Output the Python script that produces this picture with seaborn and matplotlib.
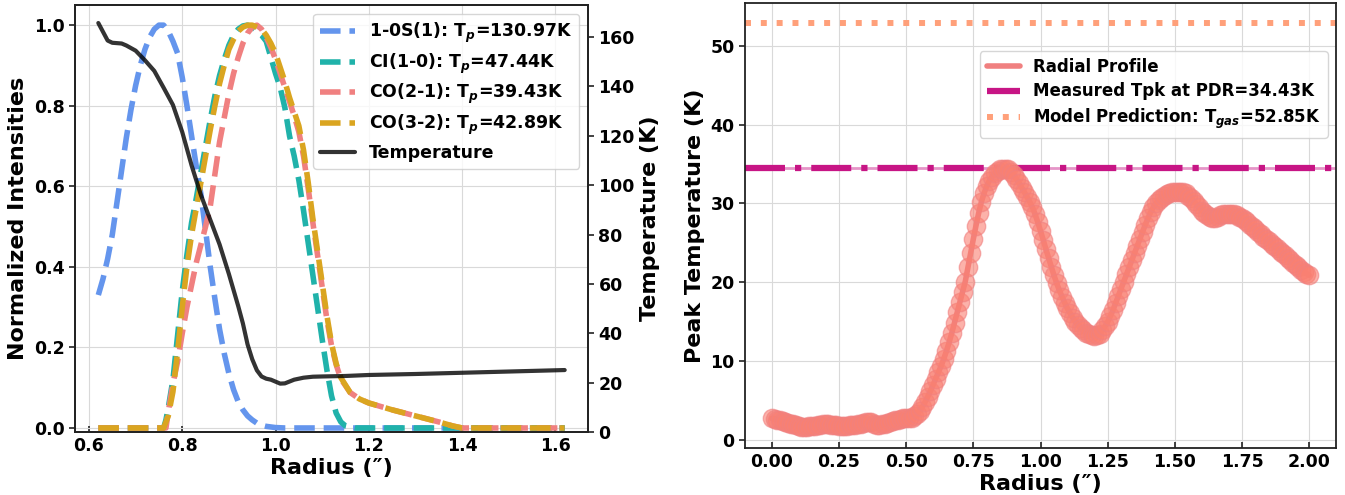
import numpy as np
import pandas as pd
import matplotlib
matplotlib.use("Agg")
import matplotlib.pyplot as plt
import seaborn as sns

# ---- left panel: normalised line intensities vs radius ----
r_h2 = [0.62, 0.63, 0.64, 0.65, 0.66, 0.67, 0.68, 0.69, 0.70, 0.71, 0.72, 0.73,
        0.74, 0.75, 0.76, 0.77, 0.78, 0.79, 0.80, 0.81, 0.82, 0.83, 0.84, 0.85,
        0.86, 0.87, 0.88, 0.89, 0.90, 0.91, 0.92, 0.93, 0.94, 0.95, 0.96, 0.97,
        0.98, 1.00, 1.02, 1.10, 1.20, 1.30, 1.40, 1.50, 1.62]
i_h2 = [0.33, 0.37, 0.42, 0.48, 0.56, 0.64, 0.72, 0.79, 0.85, 0.90, 0.94, 0.97,
        0.99, 1.0, 1.0, 0.985, 0.96, 0.93, 0.87, 0.80, 0.725, 0.65, 0.58, 0.49,
        0.40, 0.32, 0.245, 0.185, 0.135, 0.095, 0.065, 0.045, 0.03, 0.02, 0.012, 0.007,
        0.004, 0.001, 0.0, 0.0, 0.0, 0.0, 0.0, 0.0, 0.0]

r_ci = [0.62, 0.70, 0.76, 0.765, 0.77, 0.78, 0.79, 0.80, 0.81, 0.82, 0.83, 0.84,
        0.85, 0.86, 0.87, 0.88, 0.89, 0.90, 0.91, 0.92, 0.93, 0.94, 0.95, 0.96,
        0.97, 0.98, 0.99, 1.00, 1.01, 1.02, 1.03, 1.04, 1.05, 1.06, 1.07, 1.08,
        1.09, 1.10, 1.11, 1.12, 1.13, 1.14, 1.15, 1.17, 1.30, 1.45, 1.62]
i_ci = [0.0, 0.0, 0.0, 0.02, 0.05, 0.12, 0.23, 0.34, 0.43, 0.51, 0.57, 0.635,
        0.70, 0.765, 0.825, 0.875, 0.915, 0.95, 0.975, 0.99, 0.998, 1.0, 0.995, 0.985,
        0.975, 0.96, 0.92, 0.88, 0.845, 0.795, 0.725, 0.675, 0.615, 0.54, 0.46, 0.38,
        0.30, 0.22, 0.145, 0.08, 0.037, 0.015, 0.005, 0.0, 0.0, 0.0, 0.0]

r_co21 = [0.62, 0.70, 0.765, 0.77, 0.78, 0.79, 0.80, 0.81, 0.82, 0.83, 0.84, 0.85,
          0.86, 0.87, 0.88, 0.89, 0.90, 0.91, 0.92, 0.93, 0.94, 0.95, 0.96, 0.97,
          0.98, 0.99, 1.00, 1.01, 1.02, 1.03, 1.04, 1.05, 1.06, 1.07, 1.08, 1.09,
          1.10, 1.11, 1.12, 1.13, 1.14, 1.16, 1.18, 1.20, 1.25, 1.30, 1.35, 1.38,
          1.40, 1.50, 1.62]
i_co21 = [0.0, 0.0, 0.0, 0.04, 0.11, 0.165, 0.235, 0.30, 0.355, 0.41, 0.455, 0.50,
          0.55, 0.63, 0.71, 0.77, 0.83, 0.88, 0.92, 0.955, 0.98, 0.995, 1.0, 0.99,
          0.97, 0.945, 0.915, 0.88, 0.845, 0.81, 0.775, 0.735, 0.675, 0.595, 0.51, 0.43,
          0.35, 0.27, 0.205, 0.157, 0.122, 0.088, 0.072, 0.062, 0.045, 0.03, 0.015, 0.005,
          0.0, 0.0, 0.0]

r_co32 = [0.62, 0.70, 0.76, 0.77, 0.78, 0.79, 0.80, 0.81, 0.82, 0.83, 0.84, 0.85,
          0.86, 0.87, 0.88, 0.89, 0.90, 0.91, 0.92, 0.93, 0.94, 0.95, 0.96, 0.97,
          0.98, 0.99, 1.00, 1.01, 1.02, 1.03, 1.04, 1.05, 1.06, 1.07, 1.08, 1.09,
          1.10, 1.11, 1.12, 1.13, 1.14, 1.16, 1.18, 1.20, 1.25, 1.30, 1.35, 1.38,
          1.40, 1.50, 1.62]
i_co32 = [0.0, 0.0, 0.0, 0.03, 0.09, 0.19, 0.30, 0.40, 0.48, 0.545, 0.61, 0.675,
          0.74, 0.80, 0.855, 0.90, 0.94, 0.965, 0.985, 0.995, 1.0, 1.0, 0.995, 0.99,
          0.975, 0.955, 0.93, 0.895, 0.86, 0.82, 0.785, 0.75, 0.69, 0.61, 0.52, 0.44,
          0.36, 0.28, 0.21, 0.16, 0.125, 0.088, 0.072, 0.062, 0.045, 0.03, 0.015, 0.005,
          0.0, 0.0, 0.0]

r_temp = [0.62, 0.64, 0.65, 0.67, 0.68, 0.70, 0.72, 0.74, 0.76, 0.78, 0.80, 0.82,
          0.84, 0.86, 0.88, 0.90, 0.92, 0.93, 0.94, 0.95, 0.96, 0.97, 0.98, 0.99,
          1.00, 1.01, 1.02, 1.04, 1.06, 1.08, 1.10, 1.15, 1.20, 1.30, 1.40, 1.50, 1.62]
temp = [165.7, 158.6, 157.7, 157.4, 156.6, 154.5, 150.6, 146.3, 139.5, 132.5, 121.5, 108.0,
        96.0, 86.0, 76.0, 64.0, 51.0, 44.0, 35.5, 29.5, 25.0, 22.5, 21.6, 21.2,
        20.4, 19.6, 19.7, 21.2, 22.0, 22.4, 22.5, 22.7, 23.1, 23.5, 24.0, 24.5, 25.1]

line_labels = [r"1-0S(1): T$_p$=130.97K", r"CI(1-0): T$_p$=47.44K",
               r"CO(2-1): T$_p$=39.43K", r"CO(3-2): T$_p$=42.89K"]
line_colors = ["cornflowerblue", "lightseagreen", "lightcoral", "goldenrod"]

# ---- right panel: peak temperature radial profile ----
radius = np.linspace(0, 2, 201)
t_peak = [2.75, 2.7, 2.6, 2.5, 2.4, 2.3, 2.2, 2.1, 2.0, 1.9,
          1.8, 1.7, 1.65, 1.7, 1.75, 1.8, 1.85, 1.9, 1.95, 2.0,
          2.0, 2.0, 1.95, 1.9, 1.9, 1.85, 1.85, 1.85, 1.85, 1.9,
          1.9, 1.95, 2.0, 2.1, 2.2, 2.3, 2.35, 2.3, 2.1, 1.95,
          1.9, 2.0, 2.1, 2.2, 2.3, 2.4, 2.5, 2.6, 2.7, 2.75,
          2.75, 2.75, 2.8, 3.0, 3.3, 3.7, 4.2, 4.8, 5.5, 6.2,
          7.0, 7.8, 8.6, 9.4, 10.3, 11.3, 12.4, 13.6, 14.9, 16.2,
          17.5, 18.8, 20.1, 21.9, 23.7, 25.5, 27.2, 28.8, 30.2, 31.3,
          32.2, 32.9, 33.4, 33.8, 34.1, 34.3, 34.4, 34.4, 34.3, 34.0,
          33.6, 33.1, 32.6, 32.0, 31.4, 30.8, 30.2, 29.5, 28.6, 27.6,
          26.5, 25.4, 24.2, 23.1, 22.0, 20.9, 19.9, 19.0, 18.2, 17.4,
          16.7, 16.1, 15.5, 15.0, 14.6, 14.2, 13.9, 13.6, 13.4, 13.3,
          13.2, 13.3, 13.5, 13.9, 14.4, 15.0, 15.7, 16.5, 17.4, 18.3,
          19.2, 20.1, 21.0, 21.9, 22.8, 23.7, 24.6, 25.5, 26.4, 27.3,
          28.1, 28.9, 29.5, 30.0, 30.4, 30.7, 31.0, 31.2, 31.3, 31.4,
          31.5, 31.5, 31.5, 31.4, 31.3, 31.0, 30.7, 30.3, 29.9, 29.5,
          29.1, 28.8, 28.5, 28.3, 28.2, 28.2, 28.3, 28.5, 28.6, 28.7,
          28.7, 28.7, 28.6, 28.5, 28.3, 28.1, 27.9, 27.6, 27.3, 27.0,
          26.7, 26.4, 26.1, 25.8, 25.5, 25.2, 24.9, 24.6, 24.3, 24.0,
          23.7, 23.4, 23.1, 22.8, 22.5, 22.2, 21.9, 21.6, 21.3, 21.1,
          20.9]
tpk_pdr = 34.43
t_gas_model = 52.85

sns.set_style("whitegrid", rc={"axes.edgecolor": "#222222", "grid.color": "#d9d9d9",
                               "xtick.bottom": True, "ytick.left": True,
                               "text.color": "black", "axes.labelcolor": "black",
                               "xtick.color": "black", "ytick.color": "black"})
plt.rcParams.update({
    "font.family": ["DejaVu Sans"],
    "font.weight": "bold",
    "axes.labelweight": "bold",
    "axes.linewidth": 1.3,
    "mathtext.fontset": "custom",
    "mathtext.rm": "DejaVu Sans:bold",
    "mathtext.it": "DejaVu Sans:italic:bold",
    "mathtext.bf": "DejaVu Sans:bold",
})

fig = plt.figure(figsize=(13.45, 4.95), dpi=100)
ax = fig.add_axes([75 / 1345, 63 / 495, 513 / 1345, 427 / 495])
ax2 = fig.add_axes([745 / 1345, 47 / 495, 591 / 1345, 445 / 495])

series = [(r_h2, i_h2), (r_ci, i_ci), (r_co21, i_co21), (r_co32, i_co32)]
for (rr, ii), lab, col in zip(series, line_labels, line_colors):
    sns.lineplot(x=rr, y=ii, ax=ax, color=col, lw=4, linestyle="--", label=lab)
if ax.get_legend():
    ax.get_legend().remove()

ax.set_ylim(-0.01, 1.05)
ax.set_yticks([0.0, 0.2, 0.4, 0.6, 0.8, 1.0])
ax.set_xticks([0.6, 0.8, 1.0, 1.2, 1.4, 1.6])
ax.set_xlabel("Radius (\u2033)", fontsize=16, labelpad=2)
ax.set_ylabel("Normalized Intensities", fontsize=16)
ax.tick_params(labelsize=12.5, length=4, width=1.2, color="#222222")
ax.tick_params(axis="x", direction="in")

tw = ax.twinx()
sns.lineplot(x=r_temp, y=temp, ax=tw, color="black", alpha=0.8, lw=3, label="Temperature")
if tw.get_legend():
    tw.get_legend().remove()
tw.set_ylim(0, 173)
tw.set_yticks(range(0, 161, 20))
tw.grid(False)
tw.set_ylabel("Temperature (K)", fontsize=16)
tw.tick_params(labelsize=12.5, length=4, width=1.2, color="#222222")

h1, l1 = ax.get_legend_handles_labels()
h2, l2 = tw.get_legend_handles_labels()
tw.legend(h1 + h2, l1 + l2, loc="upper right", labelspacing=0.38,
          prop={"weight": "bold", "size": 12.5}, framealpha=0.8)

# right panel
ax2.axhline(tpk_pdr, color="mediumvioletred", lw=2, alpha=0.45, zorder=2)
h_meas = ax2.axhline(tpk_pdr, color="mediumvioletred", lw=4.5, linestyle="-.", zorder=2)
h_model = ax2.axhline(t_gas_model, color="lightsalmon", lw=4.3, linestyle=":", zorder=2)
prof = pd.DataFrame({"radius": radius, "tpk": t_peak})
sns.lineplot(data=prof, x="radius", y="tpk", ax=ax2, color="lightcoral", lw=4,
             zorder=3, label="Radial Profile")
sns.scatterplot(data=prof, x="radius", y="tpk", ax=ax2, color="salmon", alpha=0.6,
                s=175, edgecolor="lightcoral", linewidth=1, zorder=4, legend=False)
h_prof = ax2.get_lines()[-1]
if ax2.get_legend():
    ax2.get_legend().remove()

ax2.set_ylim(-1.0, 55.4)
ax2.set_yticks([0, 10, 20, 30, 40, 50])
ax2.set_xticks([0.0, 0.25, 0.5, 0.75, 1.0, 1.25, 1.5, 1.75, 2.0])
ax2.xaxis.set_major_formatter(matplotlib.ticker.FormatStrFormatter("%.2f"))
ax2.set_xlabel("Radius (\u2033)", fontsize=16, labelpad=2)
ax2.set_ylabel("Peak Temperature (K)", fontsize=16)
ax2.tick_params(labelsize=12.5, length=4, width=1.2, color="#222222")
ax2.tick_params(axis="x", direction="in")
ax2.legend([h_prof, h_meas, h_model],
           ["Radial Profile", f"Measured Tpk at PDR={tpk_pdr}K",
            r"Model Prediction: T$_{gas}$=" + f"{t_gas_model}K"],
           loc="upper right", bbox_to_anchor=(1.0, 0.91), labelspacing=0.38,
           prop={"weight": "bold", "size": 12}, framealpha=0.8)

fig.savefig("out.png", dpi=100)
